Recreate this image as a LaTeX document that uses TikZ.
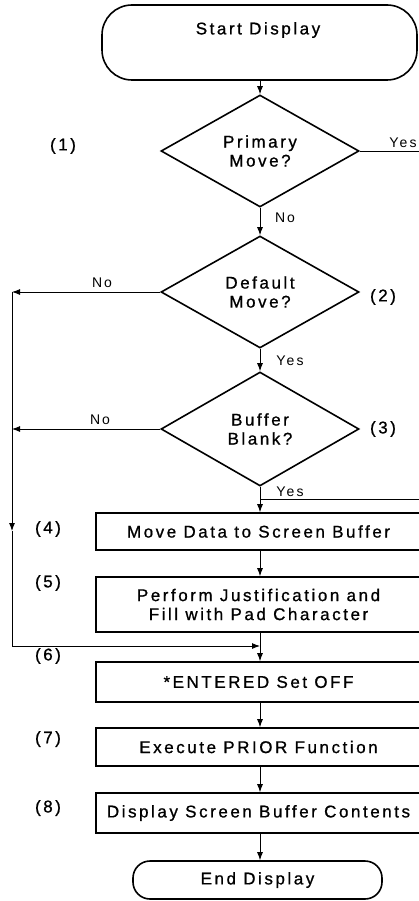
\documentclass[tikz,border=0pt]{standalone}
\usepackage{fontspec}
\setmainfont[LetterSpace=15,BoldFont={Liberation Sans},BoldFeatures={FakeBold=0.9}]{Liberation Sans}
\usetikzlibrary{shapes.geometric,arrows.meta}
\newcommand{\bigfs}{\fontsize{17}{19}\selectfont\bfseries}
\newcommand{\smallfs}{\fontsize{14}{16}\selectfont}
\begin{document}
\begin{tikzpicture}[x=1pt,y=-1pt,
  shapeline/.style={draw, line width=1.6pt},
  term/.style={shapeline, rectangle, inner sep=0pt},
  dec/.style={shapeline, diamond, minimum width=198pt, minimum height=112pt, inner sep=0pt, align=center, font=\bigfs},
  box/.style={shapeline, rectangle, minimum width=325pt, inner sep=0pt, align=center, font=\bigfs},
  txt/.style={inner sep=0pt, font=\bigfs, align=center},
  lbl/.style={inner sep=0pt, font=\smallfs},
  num/.style={inner sep=0pt, font=\bigfs},
  conn/.style={line width=0.9pt},
  arr/.style={conn, -{Latex[length=8pt,width=6pt]}}]
\useasboundingbox (0,0) rectangle (419,901);
\clip (0,0) rectangle (419,901);
\fill[white] (0,0) rectangle (419,901);

% terminals
\node[term, minimum width=315pt, minimum height=75pt, rounded corners=30pt] (start) at (259.5,42.5) {};
\node[txt] (starttxt) at (258,30) {Start Display};

% decisions
\node[dec] (d1) at (260,151) {Primary\\Move?};
\node[dec] (d2) at (260,292) {Default\\Move?};
\node[dec, minimum height=114pt] (d3) at (260,429) {Buffer\\Blank?};

% process boxes
\node[box, minimum height=37pt] (b4) at (258.5,531.5) {Move Data to Screen Buffer};
\node[box, minimum height=55pt] (b5) at (258.5,604.5) {Perform Justification and\\Fill with Pad Character};
\node[box, minimum height=40pt] (b6) at (258.5,682) {*ENTERED Set OFF};
\node[box, minimum height=38pt] (b7) at (258.5,747) {Execute PRIOR Function};
\node[box, minimum height=40pt] (b8) at (258.5,813) {Display Screen Buffer Contents};
\node[term, minimum width=249pt, minimum height=38pt, rounded corners=17pt, font=\bigfs] (end) at (257.5,880) {End Display};

% main flow
\draw[arr] (d1.north |- start.south) -- (d1.north);
\draw[arr] (d1.south) -- (d2.north);
\draw[arr] (d2.south) -- (d3.north);
\draw[arr] (d3.south) -- (d3.south |- b4.north);
\draw[arr] (d3.south |- b4.south) -- (d3.south |- b5.north);
\draw[arr] (d3.south |- b5.south) -- (d3.south |- b6.north);
\draw[arr] (d3.south |- b6.south) -- (d3.south |- b7.north);
\draw[arr] (d3.south |- b7.south) -- (d3.south |- b8.north);
\draw[arr] (d3.south |- b8.south) -- (d3.south |- end.north);

% left "No" loop
\coordinate (L2) at (12,292);
\coordinate (L3) at (12,429);
\coordinate (Lm) at (12,531);
\coordinate (Lb) at (12,646);
\coordinate (J) at (260,646);
\draw[arr] (d2.west) -- (L2);
\draw[arr] (d3.west) -- (L3);
\draw[arr] (L2) -- (Lm);
\draw[conn] (Lm) -- (Lb);
\draw[arr] (Lb) -- (J);

% right "Yes" path
\coordinate (R1) at (440,151);
\coordinate (R2) at (440,499);
\coordinate (J2) at (260,499);
\draw[conn] (d1.east) -- (R1) -- (R2) -- (J2);

% connector labels
\node[lbl] (yes1) at (403,143) {Yes};
\node[lbl] (no1) at (285,218) {No};
\node[lbl] (no2) at (102,283) {No};
\node[lbl] (yes2) at (290,361) {Yes};
\node[lbl] (no3) at (100,420) {No};
\node[lbl] (yes3) at (290,492) {Yes};

% step numbers
\node[num] (n1) at (63,146) {(1)};
\node[num] (n2) at (383,297) {(2)};
\node[num] (n3) at (383,429) {(3)};
\node[num] (n4) at (48,529) {(4)};
\node[num] (n5) at (48,583) {(5)};
\node[num] (n6) at (48,656) {(6)};
\node[num] (n7) at (48,739) {(7)};
\node[num] (n8) at (48,808) {(8)};
\end{tikzpicture}
\end{document}
